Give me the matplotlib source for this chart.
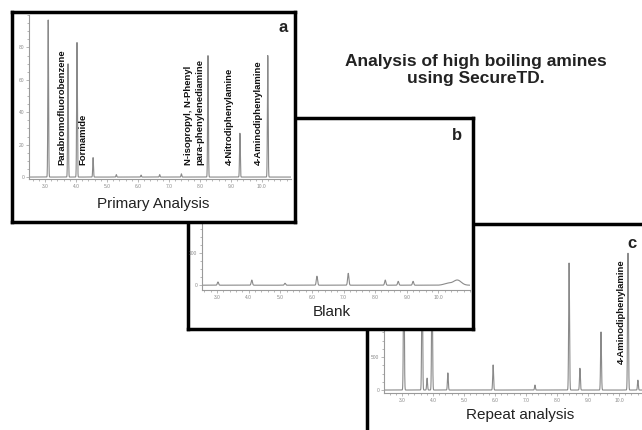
import numpy as np
import matplotlib
matplotlib.use("Agg")
import matplotlib.pyplot as plt
from matplotlib.ticker import MultipleLocator

W, H = 642, 430
plt.rcParams['font.family'] = ['Liberation Sans', 'DejaVu Sans']

# ---------------- data ----------------
title_lines = ["Analysis of high boiling amines", "using SecureTD."]

x_ticks = [3.0, 4.0, 5.0, 6.0, 7.0, 8.0, 9.0, 10.0]

# panel a : Primary Analysis
a_times = [3.10, 3.74, 4.03, 4.55, 5.30, 6.10, 6.70, 7.40, 8.26, 9.29, 10.19]
a_heights = [97, 70, 83, 12, 1.5, 1.2, 1.5, 2.0, 75, 27, 75]
a_labels = ["Parabromofluorobenzene", "Formamide",
            "N-isopropyl, N-Phenyl\npara-phenylenediamine",
            "4-Nitrodiphenylamine", "4-Aminodiphenylamine"]
a_yticks = [0, 20, 40, 60, 80]

# panel b : Blank
b_times = [3.03, 4.10, 5.15, 6.16, 7.15, 8.32, 8.73, 9.20, 10.30, 10.60]
b_heights = [10, 16, 6, 28, 37, 16, 12, 12, 6, 16]
b_yticks = [0, 100]

# panel c : Repeat analysis
c_times = [3.06, 3.65, 3.81, 3.97, 4.48, 5.94, 7.29, 8.39, 8.74, 9.42, 10.29, 10.61]
c_heights = [2100, 2050, 180, 2000, 260, 380, 75, 1925, 330, 880, 2075, 150]
c_labels = ["4-Aminodiphenylamine"]
c_yticks = [0, 500]

# ---------------- layout helpers ----------------
def rect(l, t, r, b):
    return [l / W, 1 - b / H, (r - l) / W, (b - t) / H]

fig = plt.figure(figsize=(W / 100, H / 100), dpi=100)
fig.patch.set_facecolor('white')

LINE = '#8a8a8a'

def frame(l, t, r, b, z, letter, lx, ly, caption, cx, cy):
    ax = fig.add_axes(rect(l, t, r, b), zorder=z)
    ax.set_facecolor('white')
    ax.set_xticks([]); ax.set_yticks([])
    for s in ax.spines.values():
        s.set_linewidth(2.5); s.set_color('black')
    ax.text(lx / W, 1 - ly / H, letter, transform=fig.transFigure, fontsize=12,
            fontweight='bold', ha='center', va='center', color='#222222')
    ax.text(cx / W, 1 - cy / H, caption, transform=fig.transFigure, fontsize=11,
            ha='center', va='center', color='#222222')
    return ax

def chrom(l, t, r, b, z, times, heights, xlim, ylim, yticks, width):
    ax = fig.add_axes(rect(l, t, r, b), zorder=z)
    ax.patch.set_alpha(0)
    t_grid = np.linspace(xlim[0], xlim[1], 6000)
    y = np.zeros_like(t_grid)
    for t0, h in zip(times, heights):
        ss = width * (6 if h < 0.05 * ylim[1] and t0 > 10.2 else 1)
        y += h * np.exp(-0.5 * ((t_grid - t0) / ss) ** 2)
    ax.plot(t_grid, y, color=LINE, lw=0.8, clip_on=True)
    ax.set_xlim(*xlim); ax.set_ylim(*ylim)
    for s in ['top', 'right']:
        ax.spines[s].set_visible(False)
    for s in ['left', 'bottom']:
        ax.spines[s].set_color('#9a9a9a'); ax.spines[s].set_linewidth(0.8)
    ax.set_xticks(x_ticks)
    ax.set_xticklabels([f"{v:.1f}" for v in x_ticks])
    ax.xaxis.set_minor_locator(MultipleLocator(0.2))
    ax.set_yticks(yticks)
    ax.set_yticklabels([str(v) for v in yticks])
    ax.yaxis.set_minor_locator(MultipleLocator((yticks[1] - yticks[0]) / 4))
    ax.tick_params(which='both', colors='#9a9a9a', labelsize=3.5, length=2,
                   width=0.5, pad=1.5, labelcolor='#8a8a8a')
    ax.tick_params(which='minor', length=1.2)
    return ax

# ---------------- panel c (bottom) ----------------
frame(367, 224, 660, 445, 1, 'c', 632, 243, 'Repeat analysis', 520, 415)
axc = chrom(384, 235, 650, 393, 2, c_times, c_heights, (2.42, 11.0),
            (-45, 2350), c_yticks, 0.014)
axc.text(10.07, 400, c_labels[0], rotation=90, fontsize=6.8, fontweight='bold',
         ha='center', va='bottom', color='#111111')

# ---------------- panel b ----------------
frame(188, 118, 473, 329, 3, 'b', 457, 135, 'Blank', 332, 312)
chrom(202, 125, 470, 290, 4, b_times, b_heights, (2.525, 11.0),
      (-15, 500), b_yticks, 0.02)

# ---------------- panel a (top) ----------------
frame(12, 12, 295, 222, 5, 'a', 283, 28, 'Primary Analysis', 153, 204)
axa = chrom(29, 15, 291, 179, 6, a_times, a_heights, (2.48, 10.94),
            (-1.2, 100), a_yticks, 0.012)
a_label_x = [3.55, 4.22, 7.80, 8.95, 9.88]
for txt, lx in zip(a_labels, a_label_x):
    axa.text(lx, 7.4, txt, rotation=90, fontsize=6.8, fontweight='bold',
             ha='center', va='bottom', color='#111111', linespacing=1.35,
             multialignment='left')

# ---------------- title ----------------
fig.text(476 / W, 1 - 70 / H, "\n".join(title_lines), fontsize=12.5,
         fontweight='bold', ha='center', va='center', color='#222222',
         linespacing=1.15, zorder=10)

fig.savefig('out.png', dpi=100, facecolor='white')
